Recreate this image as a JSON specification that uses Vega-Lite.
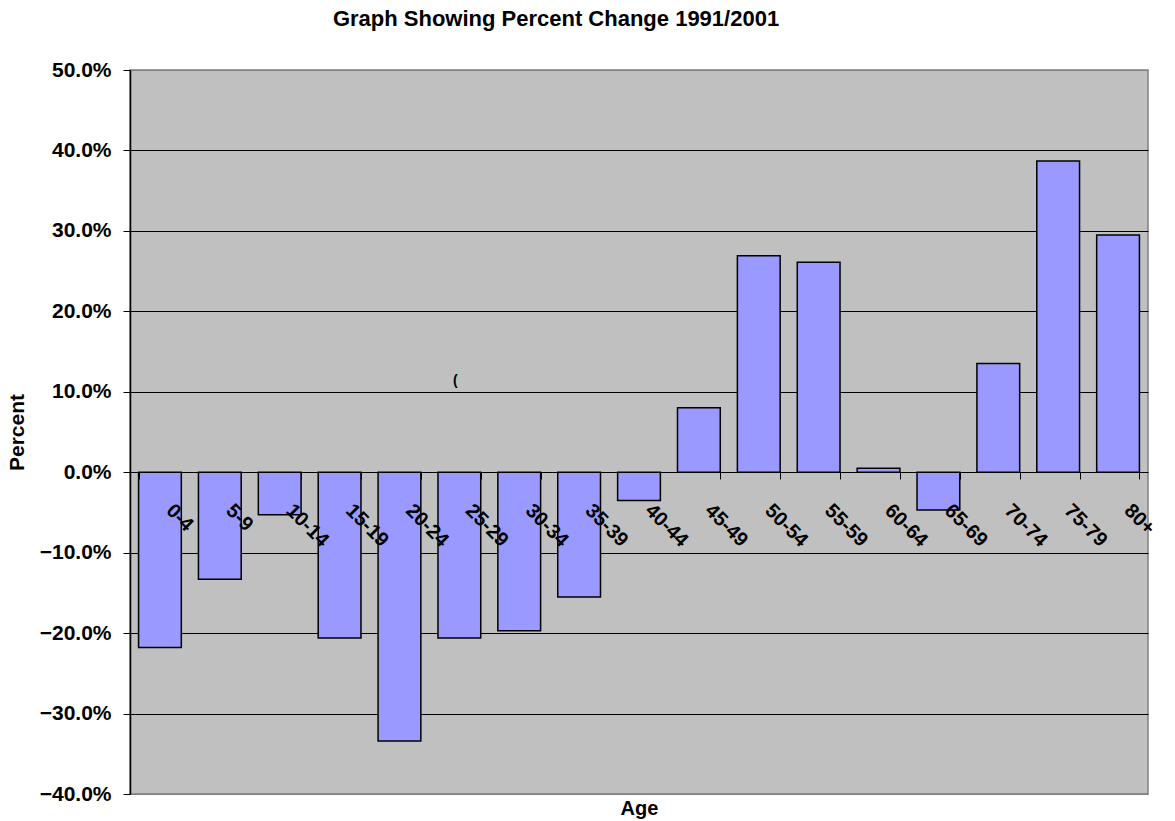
{
  "$schema": "https://vega.github.io/schema/vega-lite/v6.json",
  "autosize": {"type": "none"},
  "padding": {"left": 130, "top": 70, "right": 27, "bottom": 27},
  "width": 1018,
  "height": 724,
  "background": "white",
  "title": {
    "text": "Graph Showing Percent Change 1991/2001",
    "font": "Liberation Sans",
    "fontSize": 22,
    "fontWeight": "bold",
    "color": "black",
    "anchor": "middle",
    "dx": -83,
    "offset": 28
  },
  "config": {
    "view": {"fill": "#C0C0C0", "stroke": "#808080", "strokeWidth": 1.5},
    "axis": {"labelFont": "Liberation Sans", "titleFont": "Liberation Sans"}
  },
  "datasets": {
    "bars": [
      {"age": "0-4", "pct": -0.218},
      {"age": "5-9", "pct": -0.133},
      {"age": "10-14", "pct": -0.053},
      {"age": "15-19", "pct": -0.206},
      {"age": "20-24", "pct": -0.334},
      {"age": "25-29", "pct": -0.206},
      {"age": "30-34", "pct": -0.197},
      {"age": "35-39", "pct": -0.155},
      {"age": "40-44", "pct": -0.035},
      {"age": "45-49", "pct": 0.080},
      {"age": "50-54", "pct": 0.269},
      {"age": "55-59", "pct": 0.261},
      {"age": "60-64", "pct": 0.005},
      {"age": "65-69", "pct": -0.047},
      {"age": "70-74", "pct": 0.135},
      {"age": "75-79", "pct": 0.387},
      {"age": "80+", "pct": 0.295}
    ],
    "mark": [
      {"age": "25-29", "pct": 0.114, "label": "("}
    ]
  },
  "layer": [
    {
      "data": {"name": "bars"},
      "mark": {"type": "bar", "fill": "#9999FF", "stroke": "black", "strokeWidth": 1.5},
      "encoding": {
        "x": {
          "field": "age",
          "type": "nominal",
          "sort": null,
          "scale": {"paddingInner": 0.286, "paddingOuter": 0.143},
          "axis": {
            "zindex": 1,
            "offset": -322,
            "domain": false,
            "labelAngle": 45,
            "labelAlign": "left",
            "labelBaseline": "top",
            "labelFontSize": 20,
            "labelFontWeight": "bold",
            "labelColor": "black",
            "labelPadding": 21,
            "labelOffset": 16,
            "labelOverlap": false,
            "labelBound": false,
            "tickBand": "extent",
            "tickColor": "black",
            "tickSize": 7,
            "title": "Age",
            "titleFontSize": 20,
            "titleFontWeight": "bold",
            "titleColor": "black",
            "titleY": 326,
            "titleBaseline": "top"
          }
        },
        "y": {
          "field": "pct",
          "type": "quantitative",
          "scale": {"domain": [-0.4, 0.5], "nice": false, "zero": false},
          "axis": {
            "values": [-0.4, -0.3, -0.2, -0.1, 0, 0.1, 0.2, 0.3, 0.4, 0.5],
            "format": ".1%",
            "labelFontSize": 21,
            "labelFontWeight": "bold",
            "labelColor": "black",
            "labelPadding": 12,
            "tickSize": 7,
            "tickColor": "black",
            "domainColor": "black",
            "domainWidth": 1.5,
            "grid": true,
            "gridColor": {"condition": {"test": "datum.value <= -0.4 || datum.value >= 0.5", "value": "#808080"}, "value": "black"},
            "gridOpacity": 1,
            "gridWidth": 1,
            "title": "Percent",
            "titleFontSize": 21,
            "titleFontWeight": "bold",
            "titleColor": "black",
            "titlePadding": 12
          }
        }
      }
    },
    {
      "data": {"name": "mark"},
      "mark": {"type": "text", "font": "Liberation Sans", "fontSize": 14, "fontWeight": "bold", "color": "black", "baseline": "middle", "dx": -4},
      "encoding": {
        "x": {"field": "age", "type": "nominal", "sort": null},
        "y": {"field": "pct", "type": "quantitative"},
        "text": {"field": "label"}
      }
    }
  ]
}
